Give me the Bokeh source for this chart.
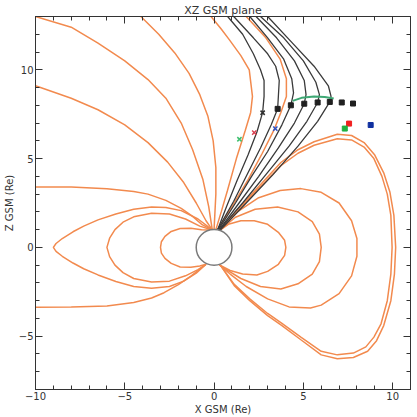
from bokeh.plotting import figure
from bokeh.models import Range1d, LinearAxis, SingleIntervalTicker
from bokeh.embed import file_html
from bokeh.resources import INLINE

# ---------------- data ----------------
# nightside open lines
lineA_x = [-10, -8, -6.5, -5, -3.7, -2.7, -1.84, -1.2, -0.63, -0.3, -0.1]
lineA_z = [13, 12.4, 11.5, 10.5, 9.45, 8.4, 7.0, 5.5, 3.84, 2.3, 0.99]
lineB_x = [-10, -8, -6.5, -5, -3.7, -2.6, -1.7, -1.0, -0.45, -0.1]
lineB_z = [9.1, 8.4, 7.75, 6.9, 5.9, 4.8, 3.65, 2.5, 1.5, 0.99]
lineC_x = [-4.1, -3.1, -2.2, -1.4, -0.8, -0.35, -0.05, 0.1, 0.1, 0.05, 0.0]
lineC_z = [13, 12.0, 10.95, 9.8, 8.6, 7.4, 6.0, 4.5, 3.0, 2.0, 1.0]
lineD_x = [-0.17, 0.4, 0.85, 1.5, 1.97, 2.15, 2.05, 1.75, 1.25, 0.75, 0.4, 0.1]
lineD_z = [13, 12.3, 11.7, 10.8, 10.0, 8.5, 7.6, 6.6, 5.0, 3.2, 2.0, 1.0]
# tail lines
tail1_x = [-10, -8, -6, -4.5, -3.7, -2.7, -1.84, -1.2, -0.7, -0.1]
tail1_z = [3.4, 3.4, 3.3, 3.15, 3.0, 2.65, 2.2, 1.75, 1.3, 0.99]
tail2_x = [-10, -8, -6, -4.5, -3.5, -2.8, -2.0, -1.28, -0.45]
tail2_z = [-3.37, -3.36, -3.3, -3.1, -2.85, -2.55, -2.1, -1.6, -0.95]
# nightside closed loops
loopN1_x = [-0.1, -0.9, -1.84, -2.7, -3.5, -4.5, -5.5, -6.5, -7.3, -7.9, -8.5, -8.85, -9.0,
            -8.85, -8.5, -7.9, -7.3, -6.5, -5.5, -4.5, -3.5, -2.5, -1.7, -1.0, -0.45]
loopN1_z = [0.99, 1.6, 2.07, 2.25, 2.28, 2.15, 1.88, 1.55, 1.2, 0.88, 0.5, 0.22, 0.0,
            -0.22, -0.5, -0.88, -1.2, -1.55, -1.92, -2.2, -2.3, -2.2, -1.9, -1.45, -0.95]
loopN2_x = [-0.15, -0.8, -1.6, -2.5, -3.5, -4.5, -5.1, -5.55, -5.85, -6.0,
            -5.85, -5.55, -5.1, -4.5, -3.5, -2.5, -1.6, -0.9, -0.45]
loopN2_z = [0.99, 1.2, 1.6, 1.88, 1.92, 1.72, 1.42, 1.0, 0.52, 0.0,
            -0.52, -1.0, -1.42, -1.75, -1.95, -1.9, -1.6, -1.25, -0.95]
loopN3_x = [-0.2, -0.7, -1.3, -1.9, -2.4, -2.75, -2.95, -3.0, -2.95, -2.75, -2.4, -1.9, -1.3, -0.8, -0.45]
loopN3_z = [0.98, 1.0, 1.08, 1.06, 0.9, 0.62, 0.32, 0.0, -0.32, -0.62, -0.9, -1.1, -1.12, -1.05, -0.95]
# dayside closed loops
loopD1_x = [0.3, 0.8, 1.5, 2.25, 3.0, 3.6, 3.95, 4.02, 3.95, 3.6, 3.0, 2.4, 1.6, 0.9, 0.3]
loopD1_z = [0.95, 1.3, 1.5, 1.5, 1.3, 0.85, 0.4, 0.0, -0.45, -0.95, -1.35, -1.55, -1.5, -1.3, -0.98]
loopD2_x = [0.3, 1.2, 2.3, 3.56, 4.7, 5.5, 5.9, 6.0, 5.9, 5.5, 4.7, 3.74, 2.6, 1.5, 0.6, 0.3]
loopD2_z = [0.95, 1.7, 2.15, 2.28, 2.0, 1.45, 0.75, 0.0, -0.8, -1.5, -2.05, -2.34, -2.2, -1.75, -1.2, -0.98]
loopD3_x = [0.3, 1.3, 2.5, 3.7, 4.86, 6.0, 7.0, 7.7, 8.0, 8.0, 7.7, 7.0, 6.0, 5.4, 4.2, 3.0, 1.8, 0.9, 0.3]
loopD3_z = [0.95, 2.0, 2.8, 3.2, 3.31, 3.1, 2.5, 1.5, 0.5, -0.5, -1.6, -2.6, -3.25, -3.41, -3.35, -2.9, -2.2, -1.5, -0.98]
loopD4_x = [0.3, 1.2, 2.3, 3.74, 4.7, 5.6, 6.9, 7.7, 8.4, 9.0, 9.5, 9.85, 10.07, 10.17, 10.1, 9.9,
            9.5, 9.1, 8.6, 7.8, 6.9, 6.0, 4.86, 3.8, 3.0, 2.0, 1.13, 0.35]
loopD4_z = [0.95, 2.0, 3.2, 4.78, 5.5, 5.95, 6.37, 6.3, 5.9, 5.2, 4.2, 3.1, 1.8, 0.0, -1.5, -3.0,
            -4.4, -5.25, -5.85, -6.2, -6.27, -6.05, -5.2, -4.4, -3.84, -3.0, -2.15, -1.0]
loopD5_x = [0.3, 1.2, 2.3, 3.74, 4.7, 5.6, 6.9, 7.7, 8.4, 8.95, 9.4, 9.7, 9.9, 9.97, 9.9, 9.7,
            9.35, 8.95, 8.5, 7.8, 6.9, 6.0, 4.86, 3.8, 3.0, 2.0, 1.13, 0.35]
loopD5_z = [0.95, 1.95, 3.1, 4.6, 5.3, 5.75, 6.12, 6.05, 5.65, 5.0, 4.0, 3.0, 1.8, 0.0, -1.5, -3.0,
            -4.3, -5.05, -5.6, -5.95, -6.05, -5.85, -5.05, -4.28, -3.72, -2.9, -2.08, -1.0]
# orange line inside the black bundle
bundleO_x = [1.8, 2.9, 3.7, 4.05, 4.05, 3.74, 3.35, 2.7, 1.9, 1.0, 0.2]
bundleO_z = [13, 11.8, 10.6, 9.5, 8.5, 7.6, 6.6, 5.3, 3.8, 2.3, 1.0]
# black (traced) lines
black0_x = [0.76, 1.6, 2.2, 2.6, 2.8, 2.8, 2.72, 2.4, 1.9, 1.3, 0.7, 0.2]
black0_z = [13, 12.0, 10.9, 10.0, 9.4, 8.5, 7.6, 6.5, 5.2, 3.8, 2.3, 1.0]
black1_x = [1.1, 2.2, 3.0, 3.45, 3.65, 3.6, 3.56, 3.2, 2.6, 1.9, 1.1, 0.2]
black1_z = [13, 11.8, 10.9, 10.2, 9.4, 8.5, 7.8, 6.9, 5.6, 4.2, 2.6, 1.0]
black2_x = [2.0, 3.0, 3.9, 4.35, 4.45, 4.3, 3.8, 3.0, 2.1, 1.2, 0.25]
black2_z = [13, 11.8, 10.6, 9.5, 8.7, 8.0, 6.9, 5.4, 4.0, 2.5, 1.0]
black3_x = [2.35, 3.5, 4.5, 5.05, 5.15, 5.05, 4.5, 3.6, 2.5, 1.4, 0.3]
black3_z = [13, 11.8, 10.5, 9.4, 8.6, 8.09, 7.0, 5.6, 4.0, 2.5, 1.0]
black4_x = [2.6, 3.9, 5.0, 5.7, 5.9, 5.8, 5.2, 4.2, 2.9, 1.6, 0.3]
black4_z = [13, 11.8, 10.5, 9.3, 8.6, 8.16, 7.1, 5.7, 4.1, 2.5, 0.98]
black5_x = [3.0, 4.3, 5.6, 6.4, 6.55, 6.48, 5.8, 4.7, 3.3, 1.8, 0.35]
black5_z = [13, 11.6, 10.2, 9.1, 8.5, 8.19, 7.1, 5.7, 4.1, 2.5, 0.97]
# green arc
arc_x = [4.4, 4.9, 5.6, 6.2, 6.7]
arc_z = [8.25, 8.42, 8.5, 8.47, 8.38]
# black squares
sq_x = [3.56, 4.3, 5.05, 5.8, 6.48, 7.15, 7.78]
sq_z = [7.8, 8.0, 8.09, 8.16, 8.19, 8.16, 8.1]
# crosses
cross_x = [2.72, 2.25, 3.43, 1.42]
cross_z = [7.58, 6.46, 6.69, 6.09]
cross_c = ["#303030", "#d84050", "#3050c0", "#40c070"]
# coloured squares
csq_x = [7.56, 7.32, 8.77]
csq_z = [6.97, 6.69, 6.89]
csq_c = ["#f02020", "#20b040", "#1030a0"]

x_ticks = [-10, -5, 0, 5, 10]
z_ticks = [-5, 0, 5, 10]
title_text = "XZ GSM plane"

ORANGE = "#f28a4e"
BLACK = "#3a3a3a"

p = figure(width=417, height=417, output_backend="svg", toolbar_location=None,
           x_range=Range1d(-10, 11), y_range=Range1d(-8, 13),
           min_border_left=0, min_border_right=7, min_border_top=0, min_border_bottom=0)
p.xgrid.visible = False
p.ygrid.visible = False
p.outline_line_color = "#333333"
p.background_fill_color = "white"

orange_lines = [(lineA_x, lineA_z), (lineB_x, lineB_z), (lineC_x, lineC_z), (lineD_x, lineD_z),
                (tail1_x, tail1_z), (tail2_x, tail2_z), (loopN1_x, loopN1_z), (loopN2_x, loopN2_z),
                (loopN3_x, loopN3_z), (loopD1_x, loopD1_z), (loopD2_x, loopD2_z), (loopD3_x, loopD3_z),
                (loopD4_x, loopD4_z), (loopD5_x, loopD5_z), (bundleO_x, bundleO_z)]
for xs, zs in orange_lines:
    p.line(xs, zs, line_color=ORANGE, line_width=1.5)

black_lines = [(black0_x, black0_z), (black1_x, black1_z), (black2_x, black2_z),
               (black3_x, black3_z), (black4_x, black4_z), (black5_x, black5_z)]
for xs, zs in black_lines:
    p.line(xs, zs, line_color=BLACK, line_width=1.3)

p.line(arc_x, arc_z, line_color="#3ea874", line_width=2)
p.scatter(sq_x, sq_z, marker="square", size=5, color="#202020")
p.scatter(cross_x, cross_z, marker="x", size=6, line_color=cross_c, line_width=1.5)
p.scatter(csq_x, csq_z, marker="square", size=5, color=csq_c)

p.circle(x=[0], y=[0], radius=1, fill_color="white", line_color="#7a7a7a", line_width=1.5)


def style_axis(ax, ticks, labels=True):
    ax.ticker = SingleIntervalTicker(interval=5, num_minor_ticks=5)
    ax.major_tick_in = 7
    ax.major_tick_out = 0
    ax.minor_tick_in = 4
    ax.minor_tick_out = 0
    ax.axis_line_color = "#333333"
    ax.major_tick_line_color = "#333333"
    ax.minor_tick_line_color = "#333333"
    ax.major_label_text_font = "DejaVu Sans"
    ax.major_label_text_font_size = "10px"
    ax.major_label_text_color = "#333333"
    ax.major_label_standoff = 2
    ax.axis_label_text_font = "DejaVu Sans"
    ax.axis_label_text_font_size = "10px"
    ax.axis_label_text_font_style = "normal"
    ax.axis_label_text_color = "#333333"
    ax.axis_label_standoff = 1
    if labels:
        ax.major_label_overrides = {t: str(t).replace("-", "\u2212") for t in ticks}
    else:
        ax.major_label_overrides = {t: "" for t in range(-15, 20, 5)}
        ax.major_label_standoff = 0


style_axis(p.xaxis[0], x_ticks)
style_axis(p.yaxis[0], z_ticks)
p.xaxis[0].axis_label = "X GSM (Re)"
p.yaxis[0].axis_label = "Z GSM (Re)"

top_ax = LinearAxis()
style_axis(top_ax, x_ticks, labels=False)
top_ax.axis_label = title_text
top_ax.axis_label_text_font_size = "11px"
top_ax.axis_label_standoff = 0
p.add_layout(top_ax, "above")
right_ax = LinearAxis()
style_axis(right_ax, z_ticks, labels=False)
p.add_layout(right_ax, "right")

open("out.html", "w").write(file_html(p, INLINE))
